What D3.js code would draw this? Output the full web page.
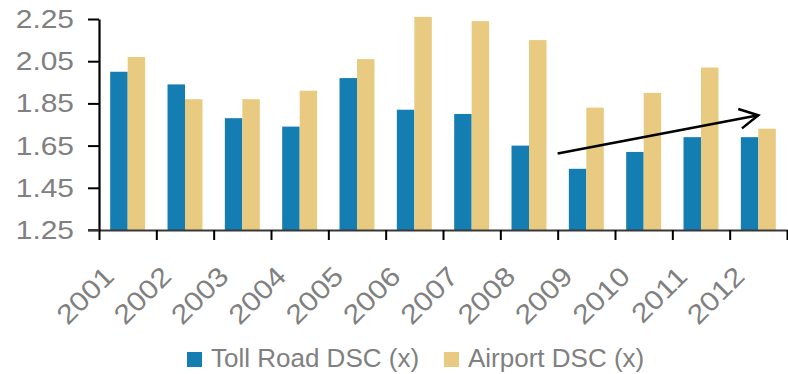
<!DOCTYPE html>
<html>
<head>
<meta charset="utf-8">
<script src="https://cdn.jsdelivr.net/npm/d3@7"></script>
<style>
  html, body { margin: 0; padding: 0; background: #ffffff; }
  svg { display: block; }
  text { font-family: "Liberation Sans", Arial, sans-serif; fill: #808080; }
</style>
</head>
<body>
<svg id="chart" width="788" height="374"></svg>
<script>
// Debt service coverage by year
const years = ["2001","2002","2003","2004","2005","2006","2007","2008","2009","2010","2011","2012"];
const tollRoad = [2.00, 1.94, 1.78, 1.74, 1.97, 1.82, 1.80, 1.65, 1.54, 1.62, 1.69, 1.69];
const airport  = [2.07, 1.87, 1.87, 1.91, 2.06, 2.26, 2.24, 2.15, 1.83, 1.90, 2.02, 1.73];
const seriesNames = ["Toll Road DSC (x)", "Airport DSC (x)"];
const seriesColors = ["#147DB2", "#E8CB80"];
const yTicks = [1.25, 1.45, 1.65, 1.85, 2.05, 2.25];
// Trend arrow: [year, value] at tail and head
const trendFrom = ["2009", 1.613];
const trendTo   = ["2012", 1.794];

const svg = d3.select("#chart");
const plotLeft = 99, plotRight = 787, plotTop = 19, plotBottom = 230;
const tickFont = 27, tickStretch = 1.13;

const x0 = d3.scaleBand().domain(years).range([plotLeft, plotRight]).padding(0);
const x1 = d3.scaleBand().domain(seriesNames).range([0, x0.bandwidth()])
  .paddingInner(0).paddingOuter(0.64);
const y = d3.scaleLinear().domain([1.25, 2.25]).range([plotBottom, plotTop]);
const xEdge = d3.scaleLinear().domain([0, years.length]).range([plotLeft, plotRight]);

const rows = years.map((yr, i) => ({ year: yr, values: [tollRoad[i], airport[i]] }));

// Bars
const groups = svg.append("g").selectAll("g").data(rows).join("g")
  .attr("transform", d => `translate(${x0(d.year)},0)`);
groups.selectAll("rect")
  .data(d => d.values.map((v, k) => ({ v, k })))
  .join("rect")
  .attr("x", d => x1(seriesNames[d.k]))
  .attr("width", x1.bandwidth())
  .attr("y", d => y(d.v))
  .attr("height", d => y(1.25) - y(d.v))
  .attr("fill", d => seriesColors[d.k]);

// X axis: baseline + tick marks on category boundaries
const xTickAxis = svg.append("g").attr("transform", `translate(0,${plotBottom})`)
  .call(d3.axisBottom(xEdge).tickValues(d3.range(0, years.length + 1))
    .tickSize(10).tickSizeOuter(0).tickFormat(""));
xTickAxis.select(".domain").attr("stroke", "#383838").attr("stroke-width", 2);
xTickAxis.selectAll(".tick line").attr("stroke", "#000").attr("stroke-width", 2);

// X axis: rotated year labels
const xLabelAxis = svg.append("g").attr("transform", `translate(0,${plotBottom})`)
  .call(d3.axisBottom(x0).tickSize(0).tickPadding(0));
xLabelAxis.select(".domain").remove();
xLabelAxis.selectAll(".tick text")
  .attr("font-size", tickFont)
  .attr("fill", "#808080")
  .attr("text-anchor", "end")
  .attr("dy", 0)
  .attr("y", 0)
  .attr("transform", `translate(-12,48) rotate(-45) scale(${tickStretch},1)`);

// Y axis
const yAxis = svg.append("g").attr("transform", `translate(${plotLeft},0)`)
  .call(d3.axisLeft(y).tickValues(yTicks).tickFormat(d3.format(".2f"))
    .tickSize(11).tickSizeOuter(0).tickPadding(14));
yAxis.select(".domain").attr("stroke", "#000").attr("stroke-width", 2.2);
yAxis.selectAll(".tick line").attr("stroke", "#000").attr("stroke-width", 2);
yAxis.selectAll(".tick text")
  .attr("font-size", 26.5).attr("fill", "#808080")
  .attr("x", 0)
  .attr("transform", `translate(-25,0) scale(${tickStretch},1)`);

// Extend baseline a little to the left of the y axis
svg.append("line")
  .attr("x1", plotLeft - 11).attr("x2", plotLeft)
  .attr("y1", y(1.25)).attr("y2", y(1.25))
  .attr("stroke", "#383838").attr("stroke-width", 2);

// Trend arrow
const ax1 = x0(trendFrom[0]), ay1 = y(trendFrom[1]);
const ax2 = x0(trendTo[0]) + x0.bandwidth() / 2, ay2 = y(trendTo[1]);
const ang = Math.atan2(ay2 - ay1, ax2 - ax1);
const headLen = 21, headAng = 28 * Math.PI / 180;
const arrow = svg.append("g").attr("fill", "none").attr("stroke", "#000")
  .attr("stroke-width", 2.5).attr("stroke-linecap", "butt");
arrow.append("line").attr("x1", ax1).attr("y1", ay1).attr("x2", ax2).attr("y2", ay2);
arrow.append("path").attr("stroke-linejoin", "miter")
  .attr("d", d3.line()([
    [ax2 - headLen * Math.cos(ang - headAng), ay2 - headLen * Math.sin(ang - headAng)],
    [ax2, ay2],
    [ax2 - headLen * Math.cos(ang + headAng), ay2 - headLen * Math.sin(ang + headAng)]
  ]));

// Legend
const legendX = [187, 444];
const legend = svg.append("g").selectAll("g").data(seriesNames).join("g")
  .attr("transform", (d, i) => `translate(${legendX[i]},352)`);
legend.append("rect").attr("width", 15).attr("height", 15)
  .attr("fill", (d, i) => seriesColors[i]);
legend.append("text").attr("x", 24).attr("y", 14.5)
  .attr("font-size", 26).text(d => d);
</script>
</body>
</html>
